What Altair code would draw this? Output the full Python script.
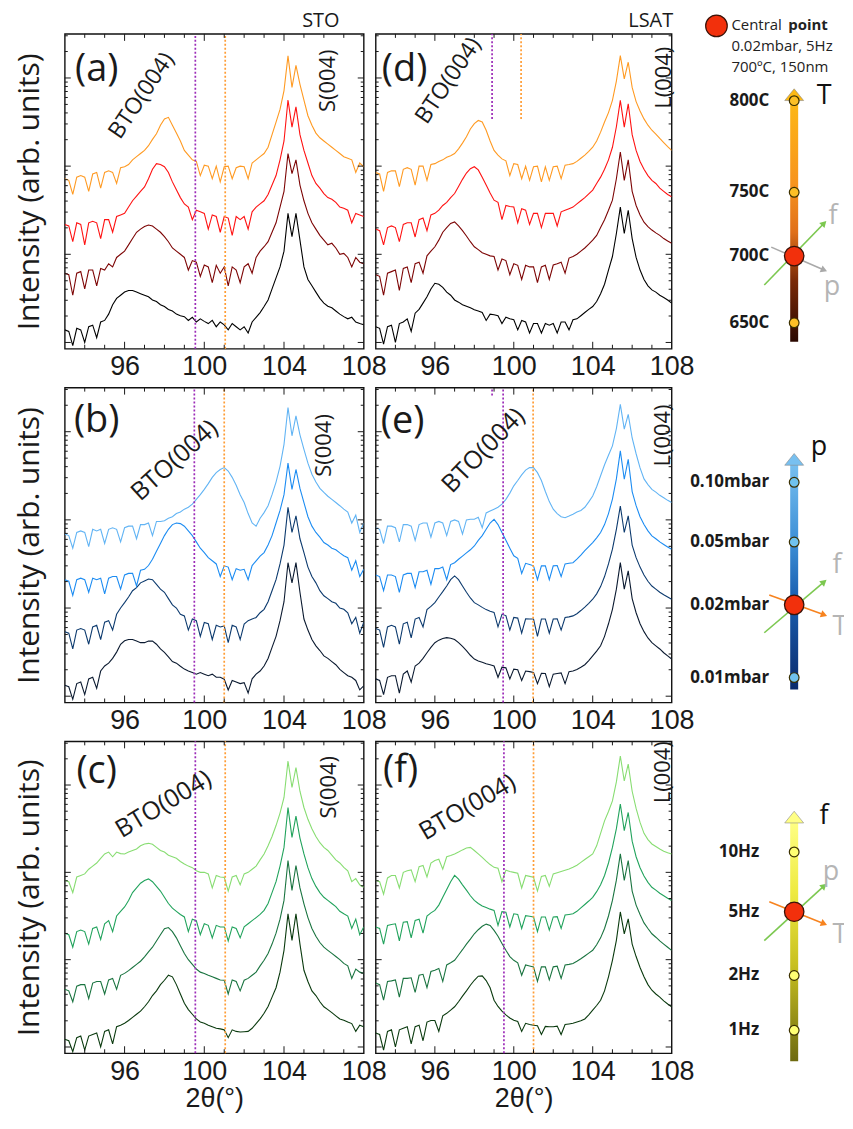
import math
import altair as alt
import pandas as pd

INK = "#1a1a1a"

# 2-theta grid (degrees)
X = [93.0, 93.2, 93.4, 93.6, 93.8, 94.0, 94.2, 94.4, 94.6, 94.8,
     95.0, 95.2, 95.4, 95.6, 95.8, 96.0, 96.2, 96.4, 96.6, 96.8,
     97.0, 97.2, 97.4, 97.6, 97.8, 98.0, 98.2, 98.4, 98.6, 98.8,
     99.0, 99.2, 99.4, 99.6, 99.8, 100.0, 100.2, 100.4, 100.6, 100.8,
     101.0, 101.2, 101.4, 101.6, 101.8, 102.0, 102.2, 102.4, 102.6, 102.8,
     103.0, 103.2, 103.4, 103.6, 103.8, 104.0, 104.2, 104.4, 104.6, 104.8,
     105.0, 105.2, 105.4, 105.6, 105.8, 106.0, 106.2, 106.4, 106.6, 106.8,
     107.0, 107.2, 107.4, 107.6, 107.8, 108.0]

# ---------------- (a) STO, temperature series ----------------
A_650 = [6, 5.5, 1, 6.5, 6, 2, 7, 7.5, 3.5, 8.5, 9, 11, 14, 16, 17, 18, 18.5, 18.5, 18, 17.5,
         17, 16.5, 15.5, 15, 14, 13.4, 12.5, 12, 11, 10.5, 10.2, 9, 10, 8.5, 9.5,
         8.7, 8, 9, 7, 8.5, 7.6, 6, 8, 7, 6, 7, 5, 8.5, 10, 11.5,
         13.4, 15.5, 19, 22.5, 26, 31, 43, 35.6, 43, 34.5, 26, 22, 20, 18, 16,
         14.5, 13.5, 13, 12, 11, 10.2, 9.5, 10, 8.5, 8, 7.6]
A_700 = [24, 23.5, 17, 24, 24.5, 19, 25, 25, 20, 25.5, 25, 27, 26, 29, 30, 31, 33, 35, 37, 38,
         38.8, 39.3, 39, 38, 37, 35.6, 34, 32, 31, 30, 29, 25, 28, 27.5, 23,
         26.6, 26, 21, 26.5, 24, 26, 20, 26, 25, 21, 26, 27, 24, 29, 31,
         32.4, 34, 37, 40, 45, 50, 62, 55.6, 60, 52, 47, 43, 40, 38, 36,
         34.5, 33, 33.5, 32, 30, 30.3, 29, 26, 29, 27.5, 27]
A_750 = [39.5, 39, 34, 40, 39.5, 33, 40, 40.5, 40, 35, 41, 41, 37, 42, 42.5, 43, 45, 47, 48.5, 50,
         51.4, 54, 57, 58.8, 58.5, 57.8, 56, 53, 50.5, 48, 46, 45, 41, 44, 43.5,
         43, 38, 42.5, 42, 37, 42, 41.5, 36, 42, 41, 42, 38, 43.5, 45, 46,
         47, 49, 52, 55, 60, 66, 79, 70.4, 76.8, 68, 63, 59, 55, 52.5, 51,
         49.3, 48, 47.5, 46.5, 45, 44.6, 44, 40, 43, 42.5, 42]
A_800 = [54, 53.5, 49, 54.5, 55, 54.5, 50, 55.5, 56, 51, 56, 56.5, 56, 52.5, 57.5,
         57.8, 58.5, 60, 61, 62, 63, 64.5, 66.5, 68.3, 71, 73, 73.5, 71, 68.5, 66,
         63, 61.5, 60, 59.5, 55, 58.3, 58, 54, 58, 53, 57.8, 58, 54, 57.5, 58,
         57.8, 54, 59, 60, 61, 62, 64, 68, 72, 76, 82, 93, 83, 90, 84,
         79, 74, 71, 68.5, 67, 66, 65, 64, 63, 62, 61, 60.5, 60, 56, 59, 57.8]

# ---------------- (b) STO, pressure series ----------------
B_001 = [5.5, 5, 1, 6, 6.5, 2.5, 7.5, 8, 4.5, 10, 11.6, 12.5, 14, 16, 18.5, 19.6, 20, 20, 19.5, 19,
         19, 19.5, 19.5, 18.5, 17, 15.9, 14.5, 13, 12.5, 11.5, 10.6, 10, 9.5, 9, 9.5,
         9, 8.5, 9, 8, 8, 7.4, 4, 7, 6.5, 6, 6.3, 3, 7.5, 9, 10,
         11.6, 14, 17.5, 21, 26, 32, 44.4, 38, 44.4, 35, 26.5, 23, 20, 18, 16.5,
         14.8, 14, 13, 12, 10.5, 9.5, 8.5, 8, 7, 4, 5.3]
B_002 = [22.5, 22, 17, 23, 23.5, 23, 18.5, 24, 24.5, 20, 25.5, 26, 23, 28, 30, 31.7, 33.5, 35.5, 36.5, 38,
         38.6, 39.2, 39, 37.5, 36, 35, 33, 31, 30, 28, 27.5, 23, 26.5, 26, 21,
         25.4, 25, 20, 24.5, 24, 24.3, 19, 24.5, 24, 20, 24.9, 26, 26.5, 27, 28.5,
         29.6, 32, 35.5, 39, 44, 50, 62, 54, 59.3, 52, 47.6, 43, 40, 38, 35.5,
         33.9, 33, 32, 31.5, 30, 29.6, 28.5, 25, 27, 22, 25.4]
B_005 = [39, 38.5, 34, 39, 39.5, 39, 35, 39.5, 39, 39.5, 34.5, 39.5, 40, 40, 36, 40.5, 41, 41, 37, 42,
         42.3, 43.5, 45.5, 48, 50.5, 53, 55, 56.5, 57, 56.8, 56, 54.5, 53, 51, 49,
         47.6, 46, 45, 44, 40, 43.4, 43, 39, 42.5, 42, 42.3, 39, 43.5, 45, 46.5,
         47.6, 50, 53, 57, 61, 66, 76, 67.7, 74, 68, 63.5, 59, 56, 54, 52.5,
         50.8, 50, 49, 48.5, 47.5, 46.6, 46, 42, 45, 40, 42.3]
B_010 = [53.5, 53, 49, 54, 54.5, 54, 49.5, 55, 54.5, 55, 50.5, 55, 55.5, 55, 51, 55.5, 56, 56, 52, 56.5,
         56.5, 57, 53, 57.5, 57.5, 57.7, 58.5, 59, 60, 60.5, 61.4, 62, 63, 64.5, 66,
         67.7, 69.5, 71.5, 73, 74, 74.6, 73.5, 71.5, 69, 66, 63.5, 60, 57, 56, 58.5,
         60.3, 62.5, 66, 70, 75, 82, 93.7, 84.7, 91, 85, 80.4, 76, 72.5, 70, 68,
         66.7, 65.5, 64.5, 63.5, 62.5, 61.4, 60.5, 57, 59.5, 54, 57]

# ---------------- (c) STO, frequency series ----------------
C_1 = [4.5, 4, 0.5, 5, 5.5, 1, 5.5, 6, 6.5, 2, 7, 7.5, 3, 8.5, 9, 9.6, 10.5, 11.5, 12.5, 13.5,
       14.9, 16.5, 18.5, 20, 22, 23.4, 25, 24.5, 22, 19, 16, 14, 12.5, 11, 10,
       9.6, 9, 8.5, 8, 7.8, 7.5, 5, 7.5, 7, 6.8, 6.9, 7, 8, 9.5, 11,
       12.8, 15, 18, 21, 26, 33, 44.7, 36.2, 44.7, 35, 26.6, 23, 20, 18.5, 16.5,
       14.9, 14, 13, 12, 11, 10.6, 10, 9.5, 7, 9, 8.5]
C_2 = [20.5, 20, 16.5, 21.5, 22, 22, 17.5, 22.5, 23, 23, 19, 23.5, 24, 20.5, 25, 25.6, 26.5, 27.5, 28.5, 29.5,
       30.9, 32.5, 34, 36, 38, 39.9, 40.3, 39, 37, 34.5, 32, 30, 28.5, 27, 26,
       25.6, 25, 24.5, 24, 23.5, 23.4, 19, 23.5, 23, 20, 23.4, 24, 25, 26, 28,
       29.8, 32, 35, 38.5, 43, 49, 61.8, 52.2, 60.2, 53, 47.9, 43.5, 40, 37.5, 35.5,
       34, 33, 32, 31, 30, 28.8, 28, 24, 27, 26, 25.6]
C_5 = [38.5, 38, 34, 39, 39.5, 39, 35, 40, 40.5, 36.5, 41.5, 42.5, 39, 44, 45.5, 46.9, 49, 51.5, 53, 54.5,
       55.4, 55.9, 55, 53.5, 52, 50, 48, 46.5, 45.5, 44.5, 43.7, 39, 43, 42.5, 38,
       41.5, 41, 37, 41, 40.5, 40.5, 36, 40.5, 40, 37, 40.5, 41.5, 42.5, 43.5, 44.5,
       45.8, 48, 51.5, 55, 60, 66, 78.8, 69.2, 76, 69, 63.9, 59.5, 56, 53.5, 51.5,
       50, 49, 48, 47, 45.5, 44.7, 44, 40, 43, 38, 40.5]
C_10 = [55.5, 55, 51.5, 56.5, 57, 57.5, 59, 60, 61, 62.5, 63.9, 64.5, 63, 64.5, 64, 63.9, 64.5, 65, 65.5, 66.5,
        67.1, 67.3, 67, 66, 65, 64.5, 63.5, 63, 62.5, 61.5, 60.7, 60, 59.5, 58.5, 58,
        58, 57.5, 53, 57, 56.5, 56.4, 52, 56.5, 57, 54, 57.5, 58, 59, 60, 62,
        63.9, 66.5, 69.5, 73, 77, 82, 93.7, 85.2, 91.6, 84, 78.8, 75, 72, 69.5, 67.5,
        66, 65, 63.5, 62, 61, 59.6, 58.5, 55, 56, 54, 53.2]

# ---------------- (d) LSAT, temperature series ----------------
D_650 = [7, 6.5, 1.5, 7, 7.5, 2, 8, 8.5, 9.5, 5.5, 11.3, 12.5, 14.5, 16.5, 19, 20.8, 20.5, 19.5, 18, 17,
         15.5, 14.8, 14, 13.5, 13, 12.4, 12, 11.5, 9, 11, 10.8, 10.5, 8, 10, 9.5,
         9.2, 6, 9, 8.5, 5, 8, 8, 5, 8, 7.5, 8, 5, 8.5, 8.5, 6,
         9.2, 9.5, 10.5, 11.5, 12.5, 13.4, 15, 17.5, 20.5, 25, 29.3, 36.6, 45, 36.6, 44,
         35, 29, 25, 22, 20, 18.7, 18, 17, 16.3, 15.5, 14.5]
D_700 = [23.5, 23, 17, 24, 24.5, 25, 18.5, 25.5, 26, 21, 27, 27.5, 24, 29.5, 31, 32.4, 34.5, 37, 38.5, 39.8,
         40.3, 39, 37.5, 35.8, 34, 32.4, 31.5, 30.5, 30, 29.5, 29.3, 25, 28.5, 28, 23.5,
         27, 26.5, 22, 26.5, 26, 26, 21, 26, 26.5, 22, 26.6, 27, 27.5, 24, 28.8,
         29.3, 30, 31, 32, 33.2, 34.5, 36, 38.5, 41, 44, 47.2, 54, 62.5, 53.5, 60,
         50, 45.5, 42.5, 40.2, 38.8, 37.7, 36.8, 36, 35, 34.2, 33.5]
D_750 = [38, 37.5, 33, 38.5, 39, 38.5, 34, 39.5, 40, 40, 35.5, 41, 41.5, 37.5, 42.5, 43, 44, 45.5, 46.5, 48,
         49.3, 51.5, 53.8, 55.8, 57.2, 57.8, 56.8, 54.5, 52, 49.5, 47.2, 46.5, 41, 45.5, 45.2,
         45, 40, 44.5, 44, 39.5, 43, 43, 38.5, 43, 43, 43, 39, 43.5, 44, 44.5,
         45, 46, 47, 48, 49.2, 50.4, 52.5, 54.5, 57, 60, 64, 70.5, 78.9, 70.4, 77.8,
         68, 63, 59.5, 57, 55, 53.5, 52.5, 51, 50, 49, 48.3]
D_800 = [56, 55.5, 50, 56, 56.5, 56.5, 51.5, 57, 57.5, 57, 52, 58, 58, 53.5, 58.5, 58.8, 59.5, 60, 60.8, 61.3,
         62, 63.5, 65.3, 67.3, 69.8, 71.5, 72.5, 72, 69.4, 66, 63, 61.5, 60.3, 59.7, 55,
         58.8, 58.5, 54, 58, 53.5, 57.8, 58, 53, 57.8, 53.5, 57.8, 58, 54, 58.3, 58.5,
         58.8, 59.5, 60.5, 61.5, 62.7, 64, 66, 68.8, 72, 75, 78.9, 85, 93.1, 85.7, 91,
         83, 78.5, 75.5, 73, 71, 69.4, 68.2, 66.8, 65.5, 64.2, 63]

# ---------------- (e) LSAT, pressure series ----------------
E_001 = [7.5, 7, 2.5, 8, 8.5, 8.5, 3, 9, 10, 6.5, 11.6, 12.5, 14, 15.8, 17.5, 19, 19.8, 20.3, 20.6, 20.4,
         20, 19, 17.8, 16.5, 15, 13.8, 13.2, 12.8, 12.3, 12, 11.6, 8, 11.2, 11, 7.5,
         10.6, 10.4, 7, 10, 9.8, 9.5, 6, 9.3, 9.2, 5, 9, 9.2, 9.4, 6, 9.8,
         10, 10.5, 11.2, 12, 13.3, 14.8, 16.3, 18, 21, 25, 29.6, 36, 44.4, 36, 41.8,
         33, 28.5, 25, 22.5, 20.5, 19, 18, 17, 15.8, 14.8, 13.8]
E_002 = [23.5, 23, 17.5, 24, 24.5, 24, 18.5, 25, 25.5, 20.5, 26.5, 27, 24, 29.5, 30.5, 31.7, 33.5, 35.2, 37, 39,
         40.2, 39, 37, 35, 33.2, 31.7, 31, 30.2, 29.5, 29, 28.6, 24, 28, 27.6, 23,
         27, 26.8, 22, 26.6, 26.5, 26.5, 21, 26.5, 26.5, 22, 26.5, 26.6, 23, 27, 27.2,
         27.5, 28.2, 29.2, 30.3, 31.5, 32.8, 34.5, 36.8, 40, 44, 48.7, 55, 62.4, 54, 59.3,
         50, 46, 43, 40.5, 38.5, 37, 36, 35, 34.2, 33.5, 32.8]
E_005 = [40.5, 40, 35.5, 40.5, 40.5, 40, 35, 40.5, 41, 41, 36.5, 41.5, 41.5, 42, 37.5, 42.5, 42.5, 43, 39, 43.8,
         44.4, 45.5, 46.5, 47.5, 48.5, 49.7, 51.5, 53, 55, 57, 58.2, 56.5, 54, 51.5, 49,
         46.6, 45.8, 41, 44.2, 43.8, 43.4, 39, 43.4, 43.4, 39, 43.4, 43.5, 40, 44, 44.2,
         44.4, 45.5, 46.8, 48.2, 49.5, 50.8, 52.3, 54, 56.5, 60, 64.6, 71, 79.9, 70.9, 77.2,
         67, 62.5, 59, 56.5, 54.5, 52.9, 52, 51, 50.2, 49.4, 48.7]
E_010 = [55.5, 55, 50.5, 56, 56, 55.5, 51, 56.5, 56.5, 56, 51.5, 56.5, 57, 57, 52.5, 57, 57.5, 57, 53, 57.5,
         58, 57.5, 53.5, 58, 58.2, 58.2, 58.8, 55.5, 60.2, 60.8, 61.4, 62, 63, 64.5, 66.5,
         68.8, 70.5, 72.3, 73.8, 74.6, 74.6, 73, 70.5, 67, 63.8, 61.4, 60, 59, 58.7, 59.2,
         59.8, 60.5, 61, 62, 63.7, 65.6, 68.5, 72, 75.5, 78.5, 81.5, 87, 94.7, 86.8, 91.5,
         84, 79, 74.5, 71, 69.2, 67.7, 66.8, 65.8, 65, 64.2, 63.5]

# ---------------- (f) LSAT, frequency series ----------------
F_1 = [6.5, 6, 1, 7, 7.5, 2, 7.5, 8, 8.5, 3, 8.5, 9, 4, 10, 10.5, 10.5, 7, 12, 12.8, 13.8,
       14.9, 16.5, 18.3, 20, 21.8, 23.4, 24.7, 24.8, 23.3, 21, 17, 15, 13.5, 12.3, 11.3,
       10.6, 10.2, 7, 9.6, 9.2, 9, 8.8, 6, 8.6, 8.5, 8.5, 8.7, 6, 9.2, 9.4,
       9.6, 10, 10.4, 11, 12.3, 13.8, 15.3, 17, 20, 24.5, 29.8, 36.2, 45.3, 38.3, 43.1,
       35, 31, 27.5, 24.5, 22, 20.2, 19, 18, 16.8, 15.8, 14.9]
F_2 = [22.5, 22, 17, 23, 23.2, 23.5, 18, 24, 24, 24.2, 19.5, 25, 25.3, 21, 26.2, 26.6, 27.2, 23, 28.3, 29,
       29.8, 31.5, 33.2, 35, 36.6, 38.3, 39.6, 40.7, 41.4, 41, 39.4, 37.5, 35.2, 33, 31,
       29.8, 29, 25, 28.3, 28, 27.7, 23, 27.7, 27.7, 23.5, 27.7, 27.9, 24, 28.3, 28.5,
       28.8, 29.5, 30.3, 31.2, 32.1, 33, 34.8, 37, 40, 44, 49, 55.5, 63.9, 55.4, 61.8,
       52, 47.5, 44.5, 41.8, 40, 38.3, 37.2, 36, 35, 34, 33]
F_5 = [40.5, 40, 35, 41, 41.3, 41.5, 36, 42, 42.2, 37, 42.6, 43, 38.5, 44, 45, 45.8, 47.5, 50, 52.5, 55,
       57, 55.8, 54, 52.3, 50.5, 49, 48, 47.2, 46.7, 46.2, 45.8, 41, 45.4, 45.2, 40.5,
       44.7, 44.5, 40, 44.1, 43.9, 43.7, 39, 43.7, 43.7, 39.5, 43.7, 43.8, 40, 44.3, 44.5,
       44.7, 45.5, 46.6, 47.7, 48.8, 50, 51.8, 54, 57, 61, 66, 72, 79.9, 71.4, 77.2,
       68, 63, 59.5, 56.8, 54.8, 53.2, 52.3, 51.3, 50.5, 49.7, 49]
F_10 = [55.5, 55, 51, 56.2, 57, 57, 53, 58, 58.5, 58.8, 55, 59.8, 60.2, 56.5, 61, 61.8, 62.2, 59, 63, 63.4,
        63.9, 64.5, 65.2, 65.8, 66, 65, 63.9, 62.8, 61.6, 60.5, 59.6, 59.3, 55, 58.7, 58.3,
        58, 57.7, 53, 57, 56.7, 56.4, 52, 56.7, 57, 53.5, 57.5, 57.9, 58.3, 58.7, 59.1,
        59.6, 60.3, 61.2, 62.1, 63, 63.9, 66.5, 70.5, 74.5, 77.5, 80.9, 87, 95.3, 87.3, 92.7,
        84, 78.5, 74, 70.5, 68.5, 67.1, 66.3, 65.5, 64.8, 64.3, 63.9]

T_NAMES = ["650C", "700C", "750C", "800C"]
P_NAMES = ["0.01mbar", "0.02mbar", "0.05mbar", "0.10mbar"]
F_NAMES = ["1Hz", "2Hz", "5Hz", "10Hz"]
T_COLORS = ["#000000", "#7d0505", "#ff1212", "#ff9a22"]
P_COLORS = ["#0b1a30", "#0c3a6e", "#1c8cf2", "#62b4f4"]
F_COLORS = ["#0a3a0e", "#1a7440", "#21a35c", "#88dd72"]

PURPLE = "#9c2cb8"
ORANGE = "#ff9d36"

# vertical reference lines: (2theta, colour, y from, y to) in % of panel height
VLINES = {
    "a": [(99.55, PURPLE, 0, 100), (101.05, ORANGE, 0, 100)],
    "b": [(99.5, PURPLE, 0, 100), (101.0, ORANGE, 0, 100)],
    "c": [(99.55, PURPLE, 0, 100), (101.05, ORANGE, 0, 100)],
    "d": [(98.9, PURPLE, 73, 100), (100.37, ORANGE, 73, 100)],
    "e": [(99.46, PURPLE, 0, 100), (98.9, PURPLE, 97.5, 100), (100.98, ORANGE, 0, 100)],
    "f": [(99.5, PURPLE, 0, 100), (101.0, ORANGE, 0, 100)],
}

# panel annotations: text, x px, y px, angle, font size
ANNOT = {
    "a": [("(a)", 32, 36, 0, 38), ("BTO(004)", 77, 62, 304, 23), ("S(004)", 264, 47, 270, 22), ("STO", 257, -13, 0, 20)],
    "d": [("(d)", 29, 36, 0, 38), ("BTO(004)", 73, 47, 304, 23), ("L(004)", 289, 44, 270, 22), ("LSAT", 276, -13, 0, 20)],
    "b": [("(b)", 32, 34, 0, 38), ("BTO(004)", 110, 73, 318, 25), ("S(004)", 260, 58, 270, 22)],
    "e": [("(e)", 27, 35, 0, 38), ("BTO(004)", 108, 63, 314, 25), ("L(004)", 288, 48, 270, 22)],
    "c": [("(c)", 32, 31, 0, 38), ("BTO(004)", 99, 63, 329, 25), ("S(004)", 265, 46, 270, 22)],
    "f": [("(f)", 25, 30, 0, 38), ("BTO(004)", 92, 66, 330, 25), ("L(004)", 288, 31, 270, 22)],
}

XT_MINOR = [94, 95, 97, 98, 99, 101, 102, 103, 105, 106, 107]
XT_MAJOR = [96, 100, 104]
YT_DECADES = [2, 30, 58, 86]
YT_LOG = [8.4, 13.4, 16.9, 19.6, 21.8, 23.7, 25.3, 26.7]
YT_MINOR = [d + m for d in YT_DECADES for m in YT_LOG if d + m < 100]


def panel(key, names, series, colors, w, h, left, bottom):
    rows = []
    for nm, col, ys in zip(names, colors, series):
        assert len(ys) == len(X), (key, nm, len(ys))
        for xv, yv in zip(X, ys):
            rows.append({"x": xv, "y": yv, "s": nm, "c": col})
    df = pd.DataFrame(rows)
    xs = alt.Scale(domain=[93, 108], nice=False, zero=False)
    ys_ = alt.Scale(domain=[0, 100], nice=False, zero=False)
    xkw = dict(values=[96, 100, 104, 108], format="d", ticks=False, domain=False, grid=False,
               labelFontSize=27, labelFont="Liberation Sans", labelColor=INK, labelPadding=5,
               labelFlush=False, labelOverlap=False)
    if bottom:
        xkw.update(title="2θ(°)", titleFont="Liberation Sans", titleFontSize=27,
                   titleFontWeight="normal", titlePadding=1, titleColor=INK)
    else:
        xkw.update(title=None)
    xaxis = alt.Axis(**xkw)
    if left:
        yaxis = alt.Axis(title="Intensity (arb. units)", labels=False, ticks=False, domain=False,
                         grid=False, titleFont="Open Sans", titleFontSize=30,
                         titleFontWeight="normal", titlePadding=20, titleColor=INK)
    else:
        yaxis = None
    XE = lambda f: alt.X(f, scale=xs, axis=xaxis)
    YE = lambda f: alt.Y(f, scale=ys_, axis=yaxis)
    lines = alt.Chart(df).mark_line(strokeWidth=1.1, clip=True).encode(
        x=XE("x:Q"), y=YE("y:Q"),
        color=alt.Color("c:N", scale=None),
        detail="s:N",
    )
    layers = [lines]
    for xv, col, y0, y1 in VLINES[key]:
        vdf = pd.DataFrame({"x": [xv], "y": [y0], "y1": [y1]})
        layers.append(alt.Chart(vdf).mark_rule(color=col, strokeDash=[2, 2], strokeWidth=1.7).encode(
            x=XE("x:Q"), y=YE("y:Q"), y2="y1:Q"))
    # inward ticks on the frame
    for vals, ln in ((XT_MINOR, 4), (XT_MAJOR, 7)):
        tdf = pd.DataFrame({"x": vals})
        layers.append(alt.Chart(tdf).mark_rule(color=INK, strokeWidth=1).encode(
            x=XE("x:Q"), y=alt.value(h), y2=alt.value(h - ln)))
        layers.append(alt.Chart(tdf).mark_rule(color=INK, strokeWidth=1).encode(
            x=XE("x:Q"), y=alt.value(0), y2=alt.value(ln)))
    for vals, ln in ((YT_MINOR, 3), (YT_DECADES, 6)):
        tdf = pd.DataFrame({"y": vals})
        layers.append(alt.Chart(tdf).mark_rule(color=INK, strokeWidth=1).encode(
            y=YE("y:Q"), x=alt.value(0), x2=alt.value(ln)))
        layers.append(alt.Chart(tdf).mark_rule(color=INK, strokeWidth=1).encode(
            y=YE("y:Q"), x=alt.value(w), x2=alt.value(w - ln)))
    for txt, px, py, ang, fs in ANNOT[key]:
        adf = pd.DataFrame({"t": [txt]})
        layers.append(alt.Chart(adf).mark_text(
            font="Open Sans", fontSize=fs, color=INK, angle=ang, align="center", baseline="middle"
        ).encode(text="t:N", x=alt.value(px), y=alt.value(py)))
    return alt.layer(*layers).properties(width=w, height=h)


# ---------------- schematic (parameter axes) ----------------
SW = 161
BAR_X = 111
T_LEVELS = ["800C", "750C", "700C", "650C"]
T_Y = [67, 159, 223, 290]
P_LEVELS = ["0.10mbar", "0.05mbar", "0.02mbar", "0.01mbar"]
P_Y = [95, 155, 218, 291]
F_LEVELS = ["10Hz", "5Hz", "2Hz", "1Hz"]
F_Y = [111, 171, 235, 290]

SCHEM = {
    "T": dict(h=316, tip=55, bottom=309, levels=T_LEVELS, ys=T_Y, central=2, lab_x=86,
              stops=[("#fdb915", 0), ("#f7941d", 0.35), ("#e0701a", 0.55), ("#7a2a08", 0.75), ("#2a0800", 1)],
              dot="#fdbf26", letter=("T", 141, 62),
              arrows=[(81, 252, 141, 190, "#7cc850"), (88, 214, 141, 237, "#a9a9a9")],
              gray=[("f", 150, 183, False), ("p", 149, 254, False)]),
    "p": dict(h=316, tip=66, bottom=303, levels=P_LEVELS, ys=P_Y, central=2, lab_x=86,
              stops=[("#78c0f0", 0), ("#3d8fd6", 0.35), ("#1a5fb0", 0.6), ("#0a2a6c", 1)],
              dot="#70c2ee", letter=("p", 136, 60),
              arrows=[(81, 246, 141, 195, "#7cc850"), (86, 208, 141, 228, "#f7831f")],
              gray=[("f", 154, 178, False), ("T", 157, 240, True)]),
    "f": dict(h=313, tip=70, bottom=321, levels=F_LEVELS, ys=F_Y, central=1, lab_x=76,
              stops=[("#ffff85", 0), ("#eeea40", 0.3), ("#c8c020", 0.6), ("#6e6a10", 1)],
              dot="#ffff72", letter=("f", 141, 75),
              arrows=[(81, 200, 141, 145, "#7cc850"), (86, 161, 141, 183, "#f7831f")],
              gray=[("p", 148, 131, False), ("T", 157, 194, True)]),
}


def schematic(key, legend=False):
    s = SCHEM[key]
    h = s["h"]
    sx = alt.Scale(domain=[0, SW], nice=False, zero=False)
    sy = alt.Scale(domain=[0, h], nice=False, zero=False, reverse=True)
    X_ = lambda f: alt.X(f, scale=sx, axis=None)
    Y_ = lambda f: alt.Y(f, scale=sy, axis=None)
    layers = []
    grad = alt.LinearGradient(gradient="linear",
                              stops=[alt.GradientStop(color=c, offset=o) for c, o in s["stops"]],
                              x1=0, x2=0, y1=0, y2=1)
    bdf = pd.DataFrame({"x": [BAR_X - 4], "x1": [BAR_X + 4], "y": [s["tip"] + 9], "y1": [s["bottom"]]})
    layers.append(alt.Chart(bdf).mark_rect(color=grad).encode(x=X_("x:Q"), x2="x1:Q", y=Y_("y:Q"), y2="y1:Q"))
    hdf = pd.DataFrame({"x": [BAR_X], "y": [s["tip"] + 6]})
    layers.append(alt.Chart(hdf).mark_point(shape="M-1,0.62L0,-0.62L1,0.62Z", filled=True, size=360,
                                            fill=s["stops"][0][0], stroke="#8a8a8a", strokeWidth=0.6,
                                            opacity=1).encode(x=X_("x:Q"), y=Y_("y:Q")))
    # arrows through the central point
    adf = pd.DataFrame([{"x": a[0], "y": a[1], "x2": a[2], "y2": a[3], "c": a[4],
                         "ang": math.degrees(math.atan2(a[2] - a[0], a[1] - a[3])) % 360}
                        for a in s["arrows"]])
    layers.append(alt.Chart(adf).mark_rule(strokeWidth=1.6).encode(
        x=X_("x:Q"), y=Y_("y:Q"), x2="x2:Q", y2="y2:Q", color=alt.Color("c:N", scale=None)))
    layers.append(alt.Chart(adf).mark_point(shape="triangle-up", filled=True, size=55, opacity=1).encode(
        x=X_("x2:Q"), y=Y_("y2:Q"), angle=alt.Angle("ang:Q", scale=None), color=alt.Color("c:N", scale=None)))
    # level dots
    cdf = pd.DataFrame({"y": [yv for i, yv in enumerate(s["ys"]) if i != s["central"]]})
    cdf["x"] = BAR_X
    layers.append(alt.Chart(cdf).mark_point(shape="circle", filled=True, size=95, fill=s["dot"],
                                            stroke="#3b3000", strokeWidth=1.2, opacity=1).encode(
        x=X_("x:Q"), y=Y_("y:Q")))
    rdf = pd.DataFrame({"x": [BAR_X], "y": [s["ys"][s["central"]]]})
    layers.append(alt.Chart(rdf).mark_point(shape="circle", filled=True, size=380, fill="#f2300c",
                                            stroke="#3a1208", strokeWidth=1.3, opacity=1).encode(
        x=X_("x:Q"), y=Y_("y:Q")))
    ldf = pd.DataFrame({"t": s["levels"], "y": s["ys"]})
    ldf["x"] = s["lab_x"]
    layers.append(alt.Chart(ldf).mark_text(align="right", baseline="middle", font="Open Sans",
                                           fontWeight="bold", fontSize=17, color=INK).encode(
        x=X_("x:Q"), y=Y_("y:Q"), text="t:N"))
    lt, lx, ly = s["letter"]
    layers.append(alt.Chart(pd.DataFrame({"t": [lt], "x": [lx], "y": [ly]})).mark_text(
        font="Open Sans", fontSize=27, color="#111111", baseline="middle", align="center").encode(
        x=X_("x:Q"), y=Y_("y:Q"), text="t:N"))
    for gt, gx, gy, clip in s["gray"]:
        layers.append(alt.Chart(pd.DataFrame({"t": [gt], "x": [gx], "y": [gy]})).mark_text(
            font="Open Sans", fontSize=27, color="#b5b5b5", baseline="middle", align="center",
            clip=clip).encode(x=X_("x:Q"), y=Y_("y:Q"), text="t:N"))
    if legend:
        layers.append(alt.Chart(pd.DataFrame({"x": [33], "y": [-8]})).mark_point(
            shape="circle", filled=True, size=470, fill="#f2300c", stroke="#3a1208", strokeWidth=1.2,
            opacity=1).encode(x=X_("x:Q"), y=Y_("y:Q")))
        tdf = pd.DataFrame({"t": ["Central", "0.02mbar, 5Hz", "700ºC, 150nm"], "x": [48, 48, 48],
                            "y": [-9, 12, 33]})
        layers.append(alt.Chart(tdf).mark_text(align="left", baseline="middle", font="Open Sans",
                                               fontSize=15, color="#222222").encode(
            x=X_("x:Q"), y=Y_("y:Q"), text="t:N"))
        layers.append(alt.Chart(pd.DataFrame({"t": ["point"], "x": [105], "y": [-9]})).mark_text(
            align="left", baseline="middle", font="Open Sans", fontWeight="bold", fontSize=15,
            color="#222222").encode(x=X_("x:Q"), y=Y_("y:Q"), text="t:N"))
    return alt.layer(*layers).properties(width=SW, height=h,
                                         view=alt.ViewBackground(stroke="transparent"))


pa = panel("a", T_NAMES, [A_650, A_700, A_750, A_800], T_COLORS, 300, 316, True, False)
pd_ = panel("d", T_NAMES, [D_650, D_700, D_750, D_800], T_COLORS, 297, 316, False, False)
pb = panel("b", P_NAMES, [B_001, B_002, B_005, B_010], P_COLORS, 300, 316, True, False)
pe = panel("e", P_NAMES, [E_001, E_002, E_005, E_010], P_COLORS, 297, 316, False, False)
pc = panel("c", F_NAMES, [C_1, C_2, C_5, C_10], F_COLORS, 300, 313, True, True)
pf = panel("f", F_NAMES, [F_1, F_2, F_5, F_10], F_COLORS, 297, 313, False, True)

row1 = alt.hconcat(pa, pd_, schematic("T", legend=True), spacing=12, bounds="flush")
row2 = alt.hconcat(pb, pe, schematic("p"), spacing=12, bounds="flush")
row3 = alt.hconcat(pc, pf, schematic("f"), spacing=12, bounds="flush")

chart = alt.vconcat(row1, row2, row3, spacing=5).properties(
    padding={"left": 6, "top": 0, "right": 0, "bottom": 0}
).configure(background="white").configure_view(stroke="#111111", strokeWidth=1.4)

chart.save("out.html", embed_options={"renderer": "svg", "actions": False})
